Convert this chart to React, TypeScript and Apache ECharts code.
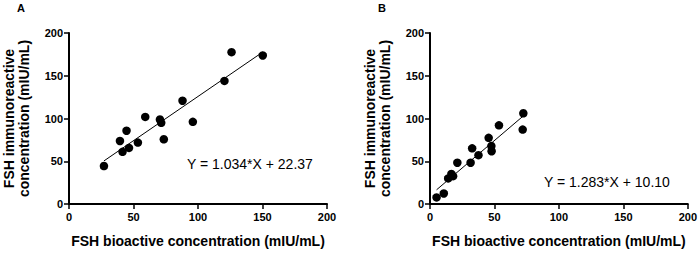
import React, { useEffect, useRef } from "react";
import * as echarts from "echarts";

const xA = [27.1, 39.5, 41.5, 44.6, 46.5, 53.4, 59.1, 70.5, 71.5, 73.5, 88, 96, 120.5, 126, 150.2];
const yA = [44.4, 73.7, 61, 85.7, 65.6, 71.8, 101.9, 98.8, 95, 75.7, 120.8, 96.1, 144, 177.6, 173.7];
const fitA = [[27.1, 50.4], [150.2, 177.7]];
const eqA = "Y = 1.034*X + 22.37";

const xB = [5.1, 10.7, 14.1, 16.6, 17.9, 21.2, 31.5, 32.7, 37.6, 45.5, 47.6, 47.8, 53.5, 71.9, 72.4];
const yB = [7.7, 12.3, 29.9, 35.2, 32.6, 48.3, 48.3, 65.1, 57.1, 77.4, 67.8, 61.7, 92, 87, 106.1];
const fitB = [[5.1, 16.6], [72.4, 103.0]];
const eqB = "Y = 1.283*X + 10.10";

const ticks = [0, 50, 100, 150, 200];
const xTitle = "FSH bioactive concentration (mIU/mL)";
const yTitle = "FSH immunoreactive\nconcentration (mIU/mL)";

const FONT = "Arial, 'Liberation Sans', sans-serif";

function axis(kind: "x" | "y", gridIndex: number) {
  const isX = kind === "x";
  return {
    type: "value",
    gridIndex,
    min: ticks[0],
    max: ticks[ticks.length - 1],
    interval: 50,
    name: isX ? xTitle : yTitle,
    nameLocation: "middle",
    nameGap: isX ? 29 : 38,
    nameRotate: isX ? 0 : 90,
    nameTextStyle: {
      fontFamily: FONT,
      fontWeight: "bold",
      fontSize: 14,
      color: "#000",
      lineHeight: 15,
    },
    axisLine: { show: true, onZero: false, lineStyle: { color: "#000", width: 2 } },
    axisTick: { show: true, length: 5, lineStyle: { color: "#000", width: 1.5 } },
    axisLabel: {
      fontFamily: FONT,
      fontWeight: "bold",
      fontSize: 11,
      color: "#000",
      margin: isX ? 7 : 6,
    },
    splitLine: { show: false },
  };
}

export default function App() {
  const ref = useRef<HTMLDivElement>(null);
  useEffect(() => {
    if (!ref.current) return;
    const chart = echarts.init(ref.current, undefined, { renderer: "svg" });
    const pts = (xs: number[], ys: number[]) => xs.map((x, i) => [x, ys[i]]);
    chart.setOption({
      animation: false,
      backgroundColor: "#fff",
      grid: [
        { left: 68, top: 33, width: 259, height: 174 },
        { left: 430, top: 33, width: 260, height: 175 },
      ],
      xAxis: [axis("x", 0), axis("x", 1)],
      yAxis: [axis("y", 0), axis("y", 1)],
      series: [
        {
          type: "line",
          xAxisIndex: 0,
          yAxisIndex: 0,
          data: fitA,
          symbol: "none",
          lineStyle: { color: "#000", width: 1 },
          silent: true,
        },
        {
          type: "scatter",
          xAxisIndex: 0,
          yAxisIndex: 0,
          data: pts(xA, yA),
          symbolSize: 8.5,
          itemStyle: { color: "#000", opacity: 1 },
        },
        {
          type: "line",
          xAxisIndex: 1,
          yAxisIndex: 1,
          data: fitB,
          symbol: "none",
          lineStyle: { color: "#000", width: 1 },
          silent: true,
        },
        {
          type: "scatter",
          xAxisIndex: 1,
          yAxisIndex: 1,
          data: pts(xB, yB),
          symbolSize: 8.5,
          itemStyle: { color: "#000", opacity: 1 },
        },
      ],
      graphic: [
        {
          type: "text",
          left: 17,
          top: 2,
          style: { text: "A", fontFamily: FONT, fontWeight: "bold", fontSize: 11, fill: "#000" },
        },
        {
          type: "text",
          left: 378,
          top: 2,
          style: { text: "B", fontFamily: FONT, fontWeight: "bold", fontSize: 11, fill: "#000" },
        },
        {
          type: "text",
          left: 187,
          top: 157,
          style: { text: eqA, fontFamily: FONT, fontSize: 14, fill: "#000" },
        },
        {
          type: "text",
          left: 544,
          top: 175,
          style: { text: eqB, fontFamily: FONT, fontSize: 14, fill: "#000" },
        },
      ],
    });
    return () => chart.dispose();
  }, []);
  return (
    <div
      ref={ref}
      style={{ position: "fixed", left: 0, top: 0, width: 700, height: 253, background: "#fff" }}
    />
  );
}
